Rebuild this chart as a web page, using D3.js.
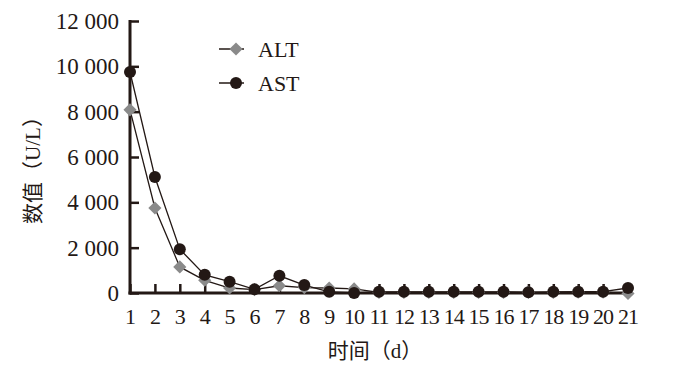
<!DOCTYPE html>
<html>
<head>
<meta charset="utf-8">
<script src="https://cdn.jsdelivr.net/npm/d3@7"></script>
<style>
  body { margin: 0; background: #fff; }
</style>
</head>
<body>
<div id="chart"></div>
<script>
var days = ["1","2","3","4","5","6","7","8","9","10","11","12","13","14","15","16","17","18","19","20","21"];
var altValues = [8080, 3750, 1150, 560, 220, 150, 320, 240, 220, 180, 30, 30, 30, 30, 30, 30, 30, 30, 40, 40, -20];
var astValues = [9750, 5120, 1930, 800, 500, 160, 760, 350, 50, 0, 50, 50, 50, 50, 50, 50, 30, 50, 60, 60, 220];
var yTicks = [0, 2000, 4000, 6000, 8000, 10000, 12000];
var seriesNames = ["ALT", "AST"];

var width = 674;
var height = 371;
var margin = { top: 21, right: 44, bottom: 79, left: 130 };
var serif = "'Liberation Serif', 'DejaVu Serif', serif";
var ink = "#231815";

var svg = d3.select("#chart")
  .append("svg")
  .attr("width", width)
  .attr("height", height)
  .attr("font-family", serif);

var x = d3.scalePoint()
  .domain(days)
  .range([margin.left, width - margin.right - 2]);

var y = d3.scaleLinear()
  .domain([0, 12000])
  .range([height - margin.bottom + 1, margin.top]);

var fmt = function(d) {
  return d3.format(",")(d).replace(",", " ");
};

// y axis
var yAxis = svg.append("g")
  .attr("transform", "translate(" + margin.left + ",0)")
  .call(d3.axisRight(y).tickValues(yTicks).tickSize(9).tickFormat(""));
yAxis.select(".domain").remove();
yAxis.selectAll("line").attr("stroke", ink).attr("stroke-width", 2.5);
svg.append("line")
  .attr("x1", margin.left).attr("x2", margin.left)
  .attr("y1", y(12000) - 1).attr("y2", y(0) + 1.5)
  .attr("stroke", ink).attr("stroke-width", 3);
svg.selectAll(".ylab")
  .data(yTicks)
  .enter().append("text")
  .attr("class", "ylab")
  .attr("x", margin.left - 11)
  .attr("y", function(d) { return y(d) + 8; })
  .attr("text-anchor", "end")
  .attr("font-family", serif)
  .attr("font-size", 23)
  .attr("fill", ink)
  .text(fmt);

// x axis
var xAxis = svg.append("g")
  .attr("transform", "translate(0," + y(0) + ")")
  .call(d3.axisTop(x).tickSize(9).tickFormat(""));
xAxis.select(".domain").remove();
xAxis.selectAll("line").attr("stroke", ink).attr("stroke-width", 2.5);
svg.append("line")
  .attr("x1", margin.left - 1.5).attr("x2", x("21") + 3)
  .attr("y1", y(0)).attr("y2", y(0))
  .attr("stroke", ink).attr("stroke-width", 3);
svg.selectAll(".xlab")
  .data(days)
  .enter().append("text")
  .attr("class", "xlab")
  .attr("x", function(d) { return x(d); })
  .attr("y", y(0) + 31)
  .attr("text-anchor", "middle")
  .attr("font-family", serif)
  .attr("font-size", 22)
  .attr("letter-spacing", -1)
  .attr("fill", ink)
  .text(function(d) { return d; });

// axis titles
svg.append("text")
  .attr("x", 375)
  .attr("y", 358)
  .attr("text-anchor", "middle")
  .attr("font-family", serif + ", 'Noto Sans CJK SC'")
  .attr("font-size", 21)
  .attr("fill", ink)
  .text("时间（d）");
svg.append("text")
  .attr("transform", "translate(40,165) rotate(-90)")
  .attr("text-anchor", "middle")
  .attr("font-family", serif + ", 'Noto Sans CJK SC'")
  .attr("font-size", 21)
  .attr("fill", ink)
  .text("数值（U/L）");

// lines
var line = d3.line()
  .x(function(d, i) { return x(days[i]); })
  .y(function(d) { return y(d); });

svg.append("path")
  .datum(altValues)
  .attr("d", line)
  .attr("fill", "none")
  .attr("stroke", ink)
  .attr("stroke-width", 1.3);
svg.append("path")
  .datum(astValues)
  .attr("d", line)
  .attr("fill", "none")
  .attr("stroke", ink)
  .attr("stroke-width", 1.3);

var diamond = d3.symbol().type(d3.symbolDiamond2).size(110);
svg.selectAll(".alt")
  .data(altValues)
  .enter().append("path")
  .attr("class", "alt")
  .attr("d", diamond)
  .attr("transform", function(d, i) { return "translate(" + x(days[i]) + "," + y(d) + ")"; })
  .attr("fill", "#8a8a8a");

svg.selectAll(".ast")
  .data(astValues)
  .enter().append("circle")
  .attr("class", "ast")
  .attr("cx", function(d, i) { return x(days[i]); })
  .attr("cy", function(d) { return y(d); })
  .attr("r", 6)
  .attr("fill", ink);

// legend
var legend = svg.selectAll(".legend")
  .data(seriesNames)
  .enter().append("g")
  .attr("class", "legend")
  .attr("transform", function(d, i) { return "translate(219," + (49 + i * 34) + ")"; });
legend.append("line")
  .attr("x1", 0).attr("x2", 25)
  .attr("stroke", ink).attr("stroke-width", 1.5);
legend.filter(function(d) { return d === "ALT"; })
  .append("path")
  .attr("d", diamond)
  .attr("transform", "translate(17,0)")
  .attr("fill", "#8a8a8a");
legend.filter(function(d) { return d === "AST"; })
  .append("circle")
  .attr("cx", 17).attr("r", 6)
  .attr("fill", ink);
legend.append("text")
  .attr("x", 39)
  .attr("y", 8)
  .attr("font-family", serif)
  .attr("font-size", 22)
  .attr("fill", ink)
  .text(function(d) { return d; });
</script>
</body>
</html>
